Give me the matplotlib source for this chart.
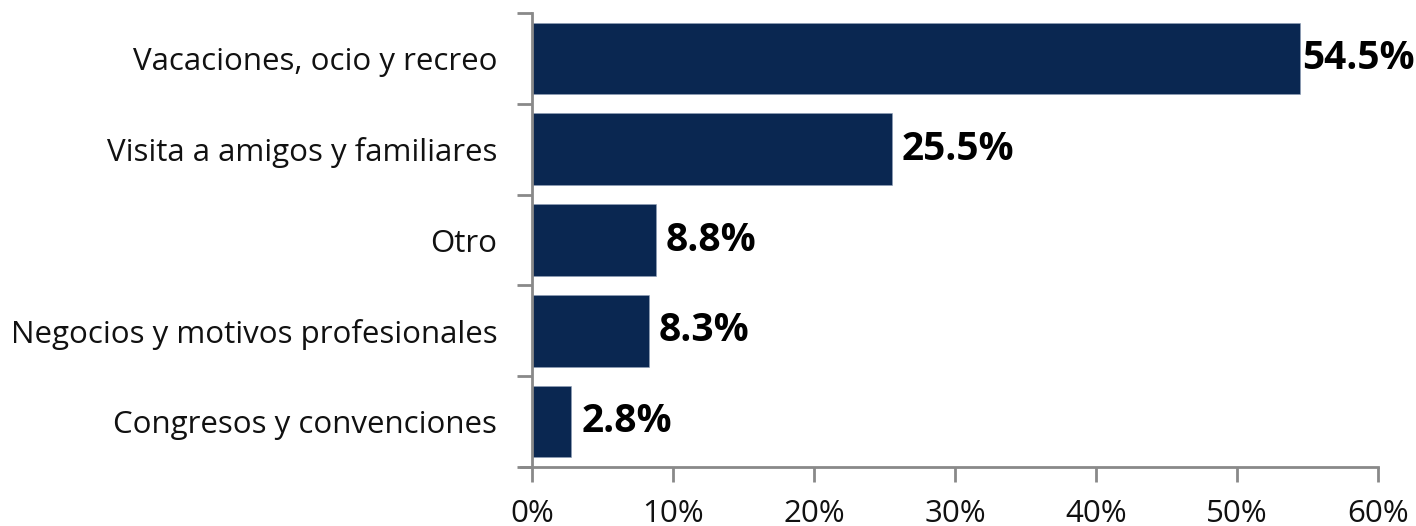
import matplotlib
matplotlib.use("Agg")
import matplotlib.pyplot as plt
import matplotlib.ticker as mticker

plt.rcParams['font.family'] = ['Open Sans', 'DejaVu Sans']

# motivos del viaje (de abajo hacia arriba)
categorias = ["Congresos y convenciones", "Negocios y motivos profesionales",
              "Otro", "Visita a amigos y familiares", "Vacaciones, ocio y recreo"]
porcentajes = [2.8, 8.3, 8.8, 25.5, 54.5]

bar_color = "#0a2751"
axis_color = "#898989"

fig = plt.figure(figsize=(14.16, 5.26), dpi=100)
ax = fig.add_axes([0.3757, 0.1122, 0.5975, 0.863])

pos = range(len(categorias))
ax.barh(pos, porcentajes, height=0.79, color=bar_color, edgecolor="#8fa0b8", linewidth=0.4)

ax.set_xlim(0, 60)
ax.set_ylim(-0.5, len(categorias) - 0.5)
ax.xaxis.set_major_locator(mticker.MultipleLocator(10))
ax.xaxis.set_major_formatter(mticker.FuncFormatter(lambda v, p: f"{v:.0f}%"))

ax.set_yticks(list(pos))
ax.set_yticklabels(categorias)
# marcas del eje y en los limites entre categorias
ax.set_yticks([i - 0.5 for i in range(len(categorias) + 1)], minor=True)
ax.tick_params(axis="y", which="major", length=0, pad=25, labelsize=22.5, labelcolor="#111111")
ax.tick_params(axis="y", which="minor", length=11, width=2, color=axis_color)
ax.tick_params(axis="x", length=11, width=2, color=axis_color, pad=12, labelsize=22.5, labelcolor="#111111")

for s in ["top", "right"]:
    ax.spines[s].set_visible(False)
for s in ["left", "bottom"]:
    ax.spines[s].set_color(axis_color)
    ax.spines[s].set_linewidth(2)
ax.spines["bottom"].set_bounds(-0.78, 60)

for y, v in zip(pos, porcentajes):
    off = 7 if v < 50 else 1.0
    ax.annotate(f"{v:.1f}%", xy=(v, y), xytext=(off, 0), textcoords="offset points",
                ha="left", va="center", fontsize=28, fontweight="bold", color="black",
                annotation_clip=False)

fig.savefig("out.png", dpi=100)
